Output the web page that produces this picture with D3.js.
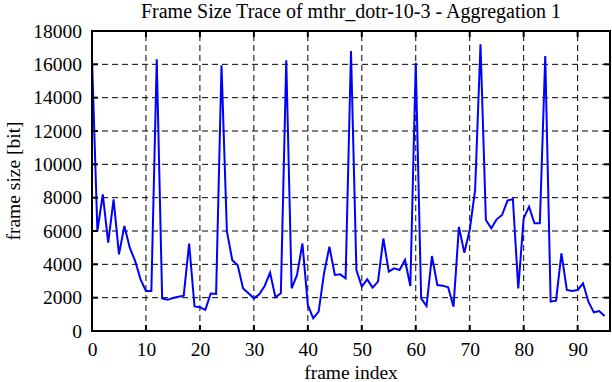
<!DOCTYPE html>
<html>
<head>
<meta charset="utf-8">
<script src="https://cdn.jsdelivr.net/npm/d3@7"></script>
<style>
  body { margin: 0; background: #fff; }
  svg text { font-family: "Liberation Serif", "DejaVu Serif", serif; fill: #000; }
</style>
</head>
<body>
<svg id="chart" width="612" height="382"></svg>
<script>
// frame size values per frame index (bit)
const frameSizes = [
  16400, 6000, 8200, 5300, 7900, 4600, 6300, 5000, 4200, 3100,
  2400, 2400, 16300, 1950, 1870, 1980, 2050, 2120, 5250, 1470,
  1420, 1270, 2250, 2220, 15950, 5980, 4250, 3950, 2550, 2260,
  1960, 2200, 2700, 3500, 2020, 2260, 16250, 2560, 3360, 5250,
  1560, 760, 1160, 3460, 5060, 3360, 3400, 3160, 16800, 3660,
  2660, 3100, 2600, 2960, 5550, 3560, 3760, 3660, 4260, 2700,
  16100, 1960, 1500, 4500, 2760, 2720, 2620, 1460, 6250, 4700,
  6060, 8450, 17200, 6660, 6160, 6700, 6960, 7820, 7920, 2560,
  6760, 7460, 6460, 6460, 16500, 1760, 1820, 4660, 2460, 2400,
  2460, 2860, 1760, 1120, 1200, 900
];
const xTicks = [0, 10, 20, 30, 40, 50, 60, 70, 80, 90];
const yTicks = [0, 2000, 4000, 6000, 8000, 10000, 12000, 14000, 16000, 18000];
const titleText = "Frame Size Trace of mthr_dotr-10-3 - Aggregation 1";

const margin = { top: 31, right: 2, bottom: 51, left: 92 };
const width = 612, height = 382;
const serif = "'Liberation Serif', 'DejaVu Serif', serif";

const svg = d3.select("#chart");

const x = d3.scaleLinear().domain([0, 96]).range([margin.left, width - margin.right]);
const y = d3.scaleLinear().domain([0, 18000]).range([height - margin.bottom, margin.top]);

// grid
const grid = svg.append("g").attr("stroke", "#000").attr("stroke-width", 1)
  .attr("stroke-dasharray", "6,4");
grid.selectAll(".gx").data(xTicks.filter(d => d > 0)).join("line")
  .attr("x1", d => x(d)).attr("x2", d => x(d))
  .attr("y1", y(0)).attr("y2", y(18000));
grid.selectAll(".gy").data(yTicks.filter(d => d > 0 && d < 18000)).join("line")
  .attr("x1", x(0)).attr("x2", x(96))
  .attr("y1", d => y(d)).attr("y2", d => y(d));

// trace
const line = d3.line().x((d, i) => x(i)).y(d => y(d));
svg.append("path").datum(frameSizes)
  .attr("fill", "none").attr("stroke", "#0000ff").attr("stroke-width", 2)
  .attr("d", line);

// axes (labels only, inward ticks drawn separately)
svg.append("g")
  .attr("transform", `translate(0,${y(0)})`)
  .call(d3.axisBottom(x).tickValues(xTicks).tickSize(0).tickPadding(11))
  .call(g => g.select(".domain").remove())
  .call(g => g.selectAll("text").style("font-size", "19.5px").style("font-family", serif));

svg.append("g")
  .attr("transform", `translate(${x(0)},0)`)
  .call(d3.axisLeft(y).tickValues(yTicks).tickFormat(d3.format("d")).tickSize(0).tickPadding(10))
  .call(g => g.select(".domain").remove())
  .call(g => g.selectAll("text").style("font-size", "19.5px").style("font-family", serif));

// inward tick marks on all four sides
const tk = svg.append("g").attr("stroke", "#000").attr("stroke-width", 2);
xTicks.forEach(d => {
  tk.append("line").attr("x1", x(d)).attr("x2", x(d)).attr("y1", y(0)).attr("y2", y(0) - 6);
  tk.append("line").attr("x1", x(d)).attr("x2", x(d)).attr("y1", y(18000)).attr("y2", y(18000) + 6);
});
yTicks.forEach(d => {
  tk.append("line").attr("x1", x(0)).attr("x2", x(0) + 6).attr("y1", y(d)).attr("y2", y(d));
  tk.append("line").attr("x1", x(96)).attr("x2", x(96) - 6).attr("y1", y(d)).attr("y2", y(d));
});

// border
svg.append("rect")
  .attr("x", x(0)).attr("y", y(18000))
  .attr("width", x(96) - x(0)).attr("height", y(0) - y(18000))
  .attr("fill", "none").attr("stroke", "#000").attr("stroke-width", 2);

// titles
svg.append("text").attr("x", 351).attr("y", 18)
  .attr("text-anchor", "middle").style("font-size", "20px").text(titleText);
svg.append("text").attr("x", 351).attr("y", 379)
  .attr("text-anchor", "middle").style("font-size", "19.5px").text("frame index");
svg.append("text")
  .attr("transform", `translate(20,${(y(0) + y(18000)) / 2}) rotate(-90)`)
  .attr("text-anchor", "middle").style("font-size", "19.5px").text("frame size [bit]");
</script>
</body>
</html>
